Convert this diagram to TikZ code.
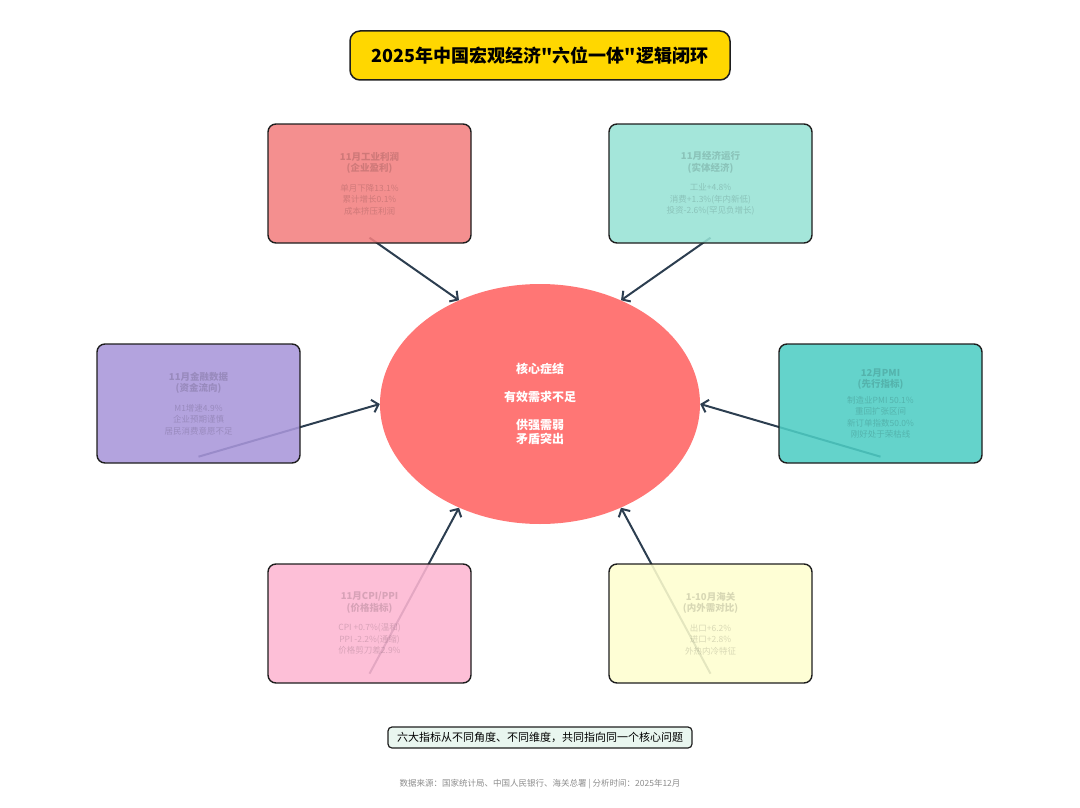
\documentclass[tikz,border=0pt]{standalone}
\usepackage{fontspec}
\setmainfont{Noto Sans CJK SC}
\newfontfamily\titlefont{Noto Sans CJK SC}
\usepackage{xcolor}
\usetikzlibrary{arrows.meta,shapes.geometric,backgrounds}

\definecolor{titlegold}{HTML}{FFD700}
\definecolor{coreRed}{HTML}{FF7675}
\definecolor{profitRed}{HTML}{F27F7F}
\definecolor{runTeal}{HTML}{97E2D5}
\definecolor{finPurple}{HTML}{A996DA}
\definecolor{pmiTeal}{HTML}{4ECDC4}
\definecolor{pricePink}{HTML}{FDB6D2}
\definecolor{tradeYellow}{HTML}{FEFECF}
\definecolor{noteMint}{HTML}{E9F6EF}
\definecolor{arrowSlate}{HTML}{2C3E50}
\definecolor{edgeDark}{HTML}{1E1E1E}

\newcommand{\indhead}[1]{{\fontsize{9.5}{12}\selectfont\bfseries #1}}

\begin{document}
\begin{tikzpicture}[
  x=1pt, y=-1pt,
  ind/.style={draw=edgeDark, line width=1.4pt, rounded corners=8pt, fill opacity=0.88,
    text opacity=0.15, text=black, align=center, minimum width=203pt, minimum height=119pt,
    font=\fontsize{8.5}{11.5}\selectfont},
  arr/.style={draw=arrowSlate, line width=2pt, -{Straight Barb[length=6pt,width=13pt]}}
]
\useasboundingbox (0,0) rectangle (1080,808);

\node[draw=edgeDark, line width=1.5pt, rounded corners=10pt, fill=titlegold,
  minimum width=380pt, minimum height=49pt, font=\titlefont\fontsize{18}{22}\selectfont\bfseries]
  (title) at (540,55.5) {2025年中国宏观经济"六位一体"逻辑闭环};

\node[ellipse, fill=coreRed, minimum width=320pt, minimum height=240pt, text=white,
  align=center, font=\fontsize{12}{14}\selectfont\bfseries]
  (core) at (540,404) {核心症结\\[14pt]有效需求不足\\[14pt]供强需弱\\矛盾突出};

% six indicators
\node[ind, fill=profitRed] (profit) at (369.5,183.5)
  {\indhead{11月工业利润}\\\indhead{(企业盈利)}\\[8pt]单月下降13.1\%\\累计增长0.1\%\\成本挤压利润};
\node[ind, fill=runTeal] (economy) at (710.5,183.5)
  {\indhead{11月经济运行}\\\indhead{(实体经济)}\\[8pt]工业+4.8\%\\消费+1.3\%(年内新低)\\投资-2.6\%(罕见负增长)};
\node[ind, fill=finPurple] (finance) at (198.5,403.5)
  {\indhead{11月金融数据}\\\indhead{(资金流向)}\\[8pt]M1增速4.9\%\\企业预期谨慎\\居民消费意愿不足};
\node[ind, fill=pmiTeal] (pmi) at (880.5,403.5)
  {\indhead{12月PMI}\\\indhead{(先行指标)}\\[4pt]制造业PMI 50.1\%\\重回扩张区间\\新订单指数50.0\%\\刚好处于荣枯线};
\node[ind, fill=pricePink] (price) at (369.5,623.5)
  {\indhead{11月CPI/PPI}\\\indhead{(价格指标)}\\[8pt]CPI +0.7\%(温和)\\PPI -2.2\%(通缩)\\价格剪刀差2.9\%};
\node[ind, fill=tradeYellow] (customs) at (710.5,623.5)
  {\indhead{1-10月海关}\\\indhead{(内外需对比)}\\[8pt]出口+6.2\%\\进口+2.8\%\\外热内冷特征};

\begin{scope}[on background layer]
\draw[arr] ([yshift=6pt]profit.south) -- (core.128);
\draw[arr] ([yshift=6pt]economy.south) -- (core.52);
\draw[arr] ([yshift=7pt]finance.south) -- (core.180);
\draw[arr] ([yshift=7pt]pmi.south) -- (core.0);
\draw[arr] ([yshift=10pt]price.south) -- (core.232);
\draw[arr] ([yshift=10pt]customs.south) -- (core.308);
\end{scope}

\node[draw=edgeDark, line width=1.2pt, rounded corners=4pt, fill=noteMint,
  minimum width=304pt, minimum height=21pt, font=\fontsize{11}{13}\selectfont]
  (note) at (540,737.5) {六大指标从不同角度、不同维度，共同指向同一个核心问题};

\node[text=black!45, font=\fontsize{8.5}{10}\selectfont] (source) at (540,784)
  {数据来源：国家统计局、中国人民银行、海关总署 | 分析时间：2025年12月};
\end{tikzpicture}
\end{document}
